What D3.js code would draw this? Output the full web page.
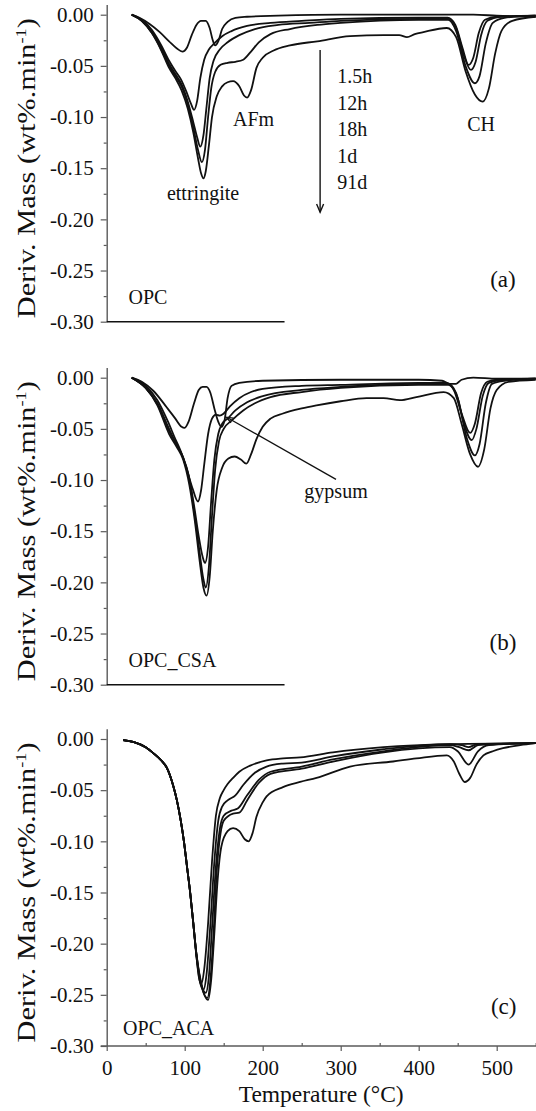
<!DOCTYPE html>
<html>
<head>
<meta charset="utf-8">
<script src="https://cdn.jsdelivr.net/npm/d3@7"></script>
<style>
  body { margin: 0; background: #fff; }
  svg { display: block; }
  text { font-family: "Liberation Serif", "Times New Roman", serif; fill: #111; }
</style>
</head>
<body>
<svg id="chart"></svg>
<script>
// ---- data ----
const ages = ['1.5h', '12h', '18h', '1d', '91d'];
const xTicks = [0, 100, 200, 300, 400, 500];
const xMinorTicks = [50, 150, 250, 350, 450, 550];
const yTicks = [0, -0.05, -0.10, -0.15, -0.20, -0.25, -0.30];
const yMinorTicks = [-0.025, -0.075, -0.125, -0.175, -0.225, -0.275];

// (a) OPC  -- [temperature °C, deriv. mass]
const opc15h = [[32,0],[42,-0.003],[55,-0.009],[68,-0.017],[80,-0.026],[90,-0.033],[97,-0.036],[103,-0.032],[109,-0.020],[115,-0.010],[121,-0.006],[127,-0.006],[132,-0.013],[136,-0.025],[139,-0.030],[143,-0.026],[148,-0.014],[155,-0.007],[165,-0.003],[180,-0.002],[220,-0.001],[300,0],[440,0],[470,0],[500,-0.001],[550,-0.002]];
const opc12h = [[32,0],[45,-0.005],[58,-0.015],[70,-0.030],[80,-0.045],[88,-0.055],[95,-0.063],[102,-0.075],[108,-0.087],[112,-0.093],[116,-0.084],[120,-0.062],[125,-0.044],[131,-0.034],[138,-0.028],[148,-0.021],[160,-0.016],[180,-0.011],[210,-0.008],[250,-0.006],[300,-0.004],[400,-0.003],[437,-0.003],[447,-0.010],[456,-0.032],[464,-0.049],[470,-0.042],[477,-0.018],[485,-0.005],[500,-0.002],[550,-0.001]];
const opc18h = [[32,0],[45,-0.006],[58,-0.017],[70,-0.032],[80,-0.048],[88,-0.058],[96,-0.068],[104,-0.085],[111,-0.105],[116,-0.120],[120,-0.129],[124,-0.118],[128,-0.090],[132,-0.062],[137,-0.045],[145,-0.034],[155,-0.027],[170,-0.020],[190,-0.014],[220,-0.010],[260,-0.008],[300,-0.006],[400,-0.004],[438,-0.004],[448,-0.013],[458,-0.040],[467,-0.054],[473,-0.046],[480,-0.020],[488,-0.006],[505,-0.002],[550,-0.001]];
const opc1d = [[32,0],[45,-0.006],[58,-0.018],[70,-0.034],[80,-0.050],[88,-0.060],[96,-0.070],[104,-0.088],[111,-0.110],[117,-0.132],[122,-0.144],[126,-0.132],[130,-0.100],[134,-0.072],[139,-0.056],[146,-0.049],[155,-0.047],[165,-0.046],[175,-0.044],[185,-0.036],[195,-0.027],[210,-0.019],[235,-0.014],[270,-0.010],[300,-0.008],[400,-0.005],[438,-0.005],[448,-0.016],[460,-0.050],[472,-0.067],[478,-0.060],[486,-0.028],[495,-0.008],[510,-0.003],[550,-0.001]];
const opc91d = [[32,0],[45,-0.006],[58,-0.018],[70,-0.035],[80,-0.052],[88,-0.062],[96,-0.074],[104,-0.092],[111,-0.115],[117,-0.140],[121,-0.155],[124,-0.160],[127,-0.153],[131,-0.128],[135,-0.100],[141,-0.080],[148,-0.070],[155,-0.066],[162,-0.065],[170,-0.070],[176,-0.079],[180,-0.081],[185,-0.074],[192,-0.052],[200,-0.042],[214,-0.035],[235,-0.030],[270,-0.026],[312,-0.021],[355,-0.020],[375,-0.020],[385,-0.022],[395,-0.019],[406,-0.017],[436,-0.013],[448,-0.022],[460,-0.055],[472,-0.078],[482,-0.085],[490,-0.072],[498,-0.038],[506,-0.016],[520,-0.006],[550,-0.002]];

// (b) OPC_CSA
const csa15h = [[32,0],[45,-0.004],[60,-0.013],[75,-0.027],[88,-0.040],[96,-0.048],[100,-0.049],[105,-0.043],[112,-0.025],[118,-0.012],[123,-0.009],[128,-0.009],[133,-0.015],[138,-0.030],[143,-0.043],[147,-0.048],[151,-0.042],[155,-0.020],[160,-0.008],[170,-0.005],[200,-0.003],[300,-0.002],[400,-0.002],[430,-0.003],[440,-0.006],[448,-0.006],[455,-0.002],[470,0],[500,-0.001],[550,-0.001]];
const csa12h = [[32,0],[50,-0.008],[65,-0.022],[78,-0.042],[88,-0.060],[95,-0.072],[102,-0.088],[110,-0.108],[117,-0.121],[121,-0.110],[125,-0.085],[130,-0.055],[135,-0.040],[140,-0.036],[145,-0.037],[150,-0.035],[158,-0.028],[170,-0.020],[185,-0.014],[200,-0.011],[250,-0.008],[300,-0.007],[400,-0.005],[435,-0.005],[445,-0.012],[455,-0.035],[466,-0.054],[472,-0.045],[480,-0.015],[488,-0.004],[500,-0.002],[550,-0.001]];
const csa18h = [[32,0],[50,-0.010],[65,-0.025],[80,-0.050],[90,-0.066],[98,-0.078],[105,-0.095],[112,-0.125],[118,-0.155],[123,-0.175],[126,-0.181],[130,-0.165],[134,-0.120],[138,-0.080],[143,-0.055],[148,-0.045],[155,-0.040],[165,-0.032],[180,-0.024],[200,-0.018],[250,-0.012],[300,-0.009],[400,-0.006],[438,-0.006],[448,-0.015],[458,-0.045],[468,-0.061],[474,-0.050],[482,-0.018],[490,-0.005],[510,-0.002],[550,-0.001]];
const csa1d = [[32,0],[50,-0.010],[65,-0.026],[80,-0.052],[90,-0.066],[98,-0.078],[106,-0.100],[113,-0.135],[119,-0.170],[124,-0.197],[127,-0.205],[131,-0.185],[135,-0.135],[139,-0.090],[144,-0.062],[150,-0.050],[160,-0.042],[175,-0.032],[190,-0.025],[210,-0.019],[250,-0.014],[300,-0.010],[400,-0.007],[438,-0.007],[450,-0.020],[462,-0.060],[472,-0.076],[478,-0.065],[486,-0.025],[494,-0.006],[510,-0.003],[550,-0.001]];
const csa91d = [[32,0],[50,-0.010],[65,-0.027],[80,-0.055],[90,-0.068],[98,-0.080],[106,-0.105],[113,-0.140],[119,-0.178],[124,-0.205],[128,-0.213],[132,-0.195],[136,-0.150],[141,-0.110],[148,-0.088],[156,-0.079],[164,-0.077],[172,-0.080],[179,-0.084],[185,-0.075],[192,-0.060],[200,-0.048],[210,-0.040],[226,-0.035],[250,-0.030],[269,-0.027],[300,-0.023],[333,-0.020],[355,-0.020],[376,-0.022],[397,-0.019],[432,-0.014],[445,-0.020],[455,-0.045],[466,-0.075],[476,-0.087],[484,-0.070],[492,-0.030],[500,-0.012],[515,-0.004],[550,-0.002]];

// (c) OPC_ACA
const aca15h = [[21,-0.001],[35,-0.003],[50,-0.008],[60,-0.014],[70,-0.021],[77,-0.028],[85,-0.045],[90,-0.060],[95,-0.080],[99,-0.100],[103,-0.125],[107,-0.150],[111,-0.180],[115,-0.212],[118,-0.232],[121,-0.240],[125,-0.225],[130,-0.180],[135,-0.120],[140,-0.075],[145,-0.058],[150,-0.050],[155,-0.044],[162,-0.038],[170,-0.032],[184,-0.026],[205,-0.021],[226,-0.019],[248,-0.018],[290,-0.013],[355,-0.008],[440,-0.005],[550,-0.004]];
const aca12h = [[21,-0.001],[35,-0.003],[50,-0.008],[60,-0.014],[70,-0.021],[77,-0.028],[85,-0.045],[90,-0.060],[95,-0.080],[99,-0.100],[103,-0.125],[107,-0.150],[111,-0.180],[115,-0.212],[119,-0.235],[124,-0.245],[128,-0.230],[133,-0.180],[138,-0.120],[143,-0.080],[148,-0.066],[155,-0.060],[165,-0.055],[175,-0.045],[190,-0.033],[205,-0.027],[226,-0.024],[250,-0.023],[290,-0.017],[355,-0.010],[440,-0.005],[455,-0.006],[464,-0.008],[475,-0.005],[550,-0.004]];
const aca18h = [[21,-0.001],[35,-0.003],[50,-0.008],[60,-0.014],[70,-0.021],[77,-0.028],[85,-0.045],[90,-0.060],[95,-0.080],[99,-0.100],[103,-0.125],[107,-0.150],[111,-0.180],[115,-0.210],[120,-0.236],[127,-0.248],[131,-0.232],[135,-0.185],[140,-0.125],[145,-0.088],[150,-0.075],[160,-0.070],[168,-0.068],[180,-0.055],[195,-0.040],[210,-0.032],[250,-0.027],[290,-0.020],[355,-0.012],[440,-0.006],[452,-0.008],[464,-0.011],[476,-0.006],[550,-0.004]];
const aca1d = [[21,-0.001],[35,-0.003],[50,-0.008],[60,-0.014],[70,-0.021],[77,-0.028],[85,-0.045],[90,-0.060],[95,-0.080],[99,-0.100],[103,-0.125],[107,-0.150],[111,-0.180],[115,-0.210],[120,-0.236],[129,-0.253],[133,-0.235],[137,-0.190],[141,-0.130],[146,-0.092],[150,-0.080],[162,-0.073],[170,-0.072],[180,-0.060],[195,-0.043],[210,-0.034],[250,-0.029],[290,-0.022],[355,-0.013],[440,-0.008],[450,-0.012],[464,-0.025],[476,-0.012],[490,-0.006],[550,-0.004]];
const aca91d = [[21,-0.001],[35,-0.003],[50,-0.008],[60,-0.014],[70,-0.021],[77,-0.028],[85,-0.045],[90,-0.060],[95,-0.080],[99,-0.100],[103,-0.125],[107,-0.150],[111,-0.180],[115,-0.210],[121,-0.238],[130,-0.255],[134,-0.235],[138,-0.190],[142,-0.140],[147,-0.105],[155,-0.090],[162,-0.087],[170,-0.090],[177,-0.098],[182,-0.100],[187,-0.092],[192,-0.076],[200,-0.062],[205,-0.056],[226,-0.047],[248,-0.042],[269,-0.038],[312,-0.027],[367,-0.022],[397,-0.019],[436,-0.016],[445,-0.022],[452,-0.034],[459,-0.042],[466,-0.038],[474,-0.025],[483,-0.016],[495,-0.012],[508,-0.009],[530,-0.006],[550,-0.004]];

// ---- layout ----
const width = 536, height = 1111;
const xLeft = 106.7, xRight = 535.7;
const pxPerUnit = 1023.3;           // vertical pixels per wt%/min
const panelTops = [14.7, 377.7, 739];

const panels = [
  { name: 'OPC',     tag: '(a)', series: [opc15h, opc12h, opc18h, opc1d, opc91d], nameAt: [28, -0.283], tagAt: [508, -0.266], stub: true },
  { name: 'OPC_CSA', tag: '(b)', series: [csa15h, csa12h, csa18h, csa1d, csa91d], nameAt: [28, -0.283], tagAt: [508, -0.266], stub: true },
  { name: 'OPC_ACA', tag: '(c)', series: [aca15h, aca12h, aca18h, aca1d, aca91d], nameAt: [21, -0.289], tagAt: [509, -0.269], stub: false }
];

const svg = d3.select('#chart')
  .attr('width', width)
  .attr('height', height)
  .attr('viewBox', `0 0 ${width} ${height}`);

const x = d3.scaleLinear().domain([0, 550]).range([xLeft, xRight]);
const axisColor = '#5a5a5a';
const fmt = d => (Math.abs(d) < 1e-9 ? 0 : d).toFixed(2);

const line = d3.line().curve(d3.curveMonotoneX);

function arrowHead(g, from, to, size, color) {
  const ang = Math.atan2(to[1] - from[1], to[0] - from[0]);
  const a1 = ang + Math.PI - 0.4, a2 = ang + Math.PI + 0.4;
  g.append('path')
    .attr('d', `M${to[0] + size * Math.cos(a1)},${to[1] + size * Math.sin(a1)}L${to[0]},${to[1]}L${to[0] + size * Math.cos(a2)},${to[1] + size * Math.sin(a2)}`)
    .attr('fill', 'none')
    .attr('stroke', color)
    .attr('stroke-width', 1.4);
}

panels.forEach((p, i) => {
  const top = panelTops[i];
  const y = d3.scaleLinear()
    .domain([-0.30, 0.01])
    .range([top + 0.30 * pxPerUnit, top - 0.01 * pxPerUnit]);

  const g = svg.append('g');

  // Y axis: major + minor ticks
  const ya = g.append('g')
    .attr('transform', `translate(${xLeft},0)`)
    .call(d3.axisLeft(y).tickValues(yTicks).tickFormat(fmt).tickSize(6).tickSizeOuter(0).tickPadding(7));
  ya.attr('font-family', null).attr('font-size', null);
  ya.selectAll('text').attr('font-size', '21px').attr('fill', '#111');
  ya.selectAll('line').attr('stroke', axisColor).attr('stroke-width', 1.2);
  ya.select('.domain').attr('stroke', axisColor).attr('stroke-width', 1.4);

  const ym = g.append('g')
    .attr('transform', `translate(${xLeft},0)`)
    .call(d3.axisLeft(y).tickValues(yMinorTicks).tickFormat('').tickSize(3));
  ym.select('.domain').remove();
  ym.selectAll('line').attr('stroke', axisColor).attr('stroke-width', 1.2);

  // Y axis title
  const yt = g.append('text')
    .attr('transform', `translate(35,${y(-0.15)}) rotate(-90)`)
    .attr('text-anchor', 'middle')
    .attr('font-size', '25px')
    .attr('textLength', 300)
    .attr('lengthAdjust', 'spacingAndGlyphs');
  yt.append('tspan').text('Deriv.  Mass (wt%.min');
  yt.append('tspan').attr('dy', -9).attr('font-size', '15px').text('-1');
  yt.append('tspan').attr('dy', 9).text(')');

  if (p.stub) {
    // short baseline segment at -0.30
    g.append('line')
      .attr('x1', x(0)).attr('x2', x(228))
      .attr('y1', y(-0.30)).attr('y2', y(-0.30))
      .attr('stroke', '#111').attr('stroke-width', 1.6);
  } else {
    // full temperature axis
    const xa = g.append('g')
      .attr('transform', `translate(0,${y(-0.30)})`)
      .call(d3.axisBottom(x).tickValues(xTicks).tickFormat(d3.format('d')).tickSize(5).tickSizeOuter(0).tickPadding(9));
    xa.attr('font-family', null).attr('font-size', null);
    xa.select('.domain').remove();
    xa.selectAll('text').attr('font-size', '21px').attr('fill', '#111');
    xa.selectAll('line').attr('stroke', axisColor).attr('stroke-width', 1.2);

    const xm = g.append('g')
      .attr('transform', `translate(0,${y(-0.30)})`)
      .call(d3.axisBottom(x).tickValues(xMinorTicks).tickFormat('').tickSize(-3));
    xm.select('.domain').remove();
    xm.selectAll('line').attr('stroke', axisColor).attr('stroke-width', 1.2);

    g.append('line')
      .attr('x1', xLeft - 6).attr('x2', width)
      .attr('y1', y(-0.30)).attr('y2', y(-0.30))
      .attr('stroke', axisColor).attr('stroke-width', 1.4);

    g.append('text')
      .attr('x', x(275)).attr('y', y(-0.30) + 56)
      .attr('text-anchor', 'middle')
      .attr('font-size', '23.5px')
      .text('Temperature (°C)');
  }

  // curves
  line.x(d => x(d[0])).y(d => y(d[1]));
  g.append('g').selectAll('path')
    .data(p.series)
    .join('path')
    .attr('d', line)
    .attr('fill', 'none')
    .attr('stroke', '#111')
    .attr('stroke-width', 1.8)
    .attr('stroke-linejoin', 'round');

  // panel names
  g.append('text').attr('x', x(p.nameAt[0])).attr('y', y(p.nameAt[1]))
    .attr('font-size', '20px').text(p.name);
  g.append('text').attr('x', x(p.tagAt[0])).attr('y', y(p.tagAt[1]))
    .attr('text-anchor', 'middle').attr('font-size', '23px').text(p.tag);

  // annotations
  if (i === 0) {
    g.append('text').attr('x', x(123.5)).attr('y', y(-0.181))
      .attr('text-anchor', 'middle').attr('font-size', '20px').text('ettringite');
    g.append('text').attr('x', x(162)).attr('y', y(-0.109))
      .attr('font-size', '20px').text('AFm');
    g.append('text').attr('x', x(480)).attr('y', y(-0.1137))
      .attr('text-anchor', 'middle').attr('font-size', '20px').text('CH');

    const a0 = [x(273.6), y(-0.0345)], a1 = [x(273.6), y(-0.193)];
    g.append('line')
      .attr('x1', a0[0]).attr('y1', a0[1]).attr('x2', a1[0]).attr('y2', a1[1])
      .attr('stroke', '#111').attr('stroke-width', 1.4);
    arrowHead(g, a0, a1, 9, '#111');

    g.append('g').selectAll('text')
      .data(ages)
      .join('text')
      .attr('x', x(295.6))
      .attr('y', (d, k) => y(-0.0672 - k * 0.0259))
      .attr('font-size', '20px')
      .text(d => d);
  }
  if (i === 1) {
    const b0 = [x(294), y(-0.0993)], b1 = [x(153.8), y(-0.0387)];
    g.append('line')
      .attr('x1', b0[0]).attr('y1', b0[1]).attr('x2', b1[0]).attr('y2', b1[1])
      .attr('stroke', '#111').attr('stroke-width', 1.3);
    arrowHead(g, b0, b1, 7, '#111');
    g.append('text').attr('x', x(294)).attr('y', y(-0.1176))
      .attr('text-anchor', 'middle').attr('font-size', '20px').text('gypsum');
  }
});
</script>
</body>
</html>
